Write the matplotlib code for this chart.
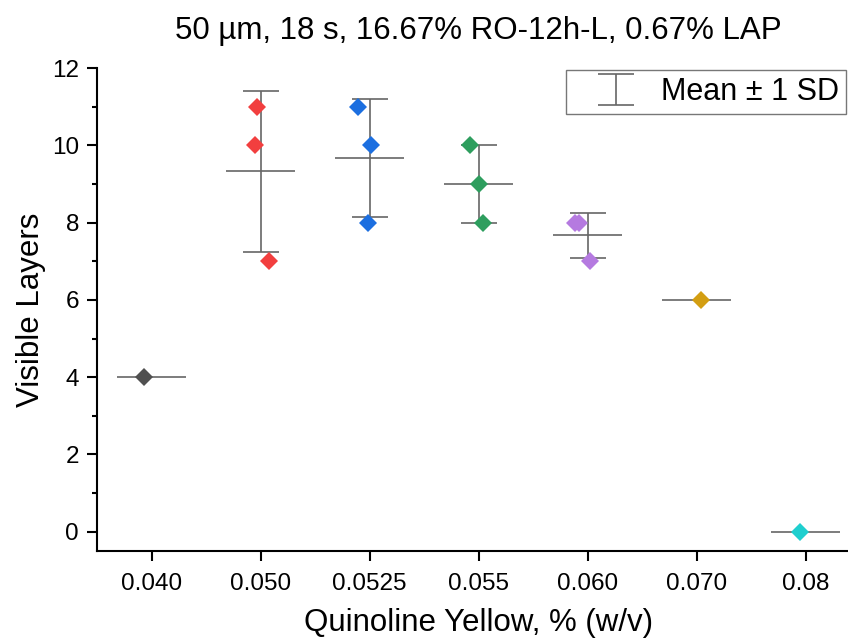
import numpy as np
import matplotlib
matplotlib.use('Agg')
from matplotlib import pyplot as plt

# 数据: 每个浓度下的可见层数
categories = ['0.040', '0.050', '0.0525', '0.055', '0.060', '0.070', '0.08']
layers = [
    [4],
    [11, 10, 7],
    [11, 10, 8],
    [10, 9, 8],
    [8, 8, 7],
    [6],
    [0],
]
# 散点的水平抖动
jitter = [
    [-0.073],
    [-0.031, -0.055, 0.079],
    [-0.107, 0.009, -0.018],
    [-0.080, 0.0, 0.040],
    [-0.116, -0.077, 0.024],
    [0.039],
    [-0.052],
]
colors = ['#505050', '#f23f3f', '#1c6fe0', '#2e9e5e', '#b57ae0', '#d39e12', '#1fcfcf']

plt.rcParams['font.family'] = ['Liberation Sans', 'DejaVu Sans']
plt.rcParams['axes.unicode_minus'] = False

fig = plt.figure(figsize=(8.48, 6.42), dpi=100)
ax = fig.add_axes([0.1144, 0.1417, 0.8998, 0.7523])

x = np.arange(len(categories))
means = np.array([np.mean(v) for v in layers])
sds = np.array([np.std(v, ddof=1) if len(v) > 1 else 0.0 for v in layers])

bar_color = '#666666'
# 均值线
ax.hlines(means, x - 0.32, x + 0.32, color=bar_color, lw=1.2, zorder=2)
# 均值 ± 1 SD
multi = sds > 0
ax.errorbar(x[multi], means[multi], yerr=sds[multi], fmt='none',
            ecolor=bar_color, elinewidth=1.2, capsize=12.8, capthick=1.2,
            zorder=2, label='Mean ± 1 SD')

# 散点
for i, vals in enumerate(layers):
    xs = x[i] + np.array(jitter[i])
    ax.plot(xs, vals, 'D', color=colors[i], markersize=9.5, markeredgewidth=0,
            zorder=3)

ax.set_xlim(-0.5, 6.5)
ax.set_ylim(-0.5, 12)
ax.set_xticks(x)
ax.set_xticklabels(categories)
ax.set_yticks(np.arange(0, 13, 2))
ax.set_yticks(np.arange(1, 12, 2), minor=True)

for side in ['top', 'right']:
    ax.spines[side].set_visible(False)
for side in ['left', 'bottom']:
    ax.spines[side].set_linewidth(1.5)

ax.tick_params(axis='both', which='major', length=7, width=1.5,
               labelsize=17.5, pad=6)
ax.tick_params(axis='x', which='major', pad=9)
ax.tick_params(axis='y', which='minor', length=3.5, width=1.5)

ax.set_xlabel('Quinoline Yellow, % (w/v)', fontsize=22.5, labelpad=9)
ax.set_ylabel('Visible Layers', fontsize=22.5, labelpad=4)
ax.set_title('50 µm, 18 s, 16.67% RO-12h-L, 0.67% LAP', fontsize=22.5, pad=21)

leg = ax.legend(loc='upper left', bbox_to_anchor=(566 / 848, 1 - 70 / 642),
                bbox_transform=fig.transFigure, borderaxespad=0,
                fontsize=22, frameon=True, fancybox=False,
                borderpad=0.23, handlelength=2.8, handletextpad=0.08,
                markerscale=0.62)
leg.get_frame().set_edgecolor('#555555')
leg.get_frame().set_linewidth(1.0)

fig.savefig('out.png', dpi=100)
